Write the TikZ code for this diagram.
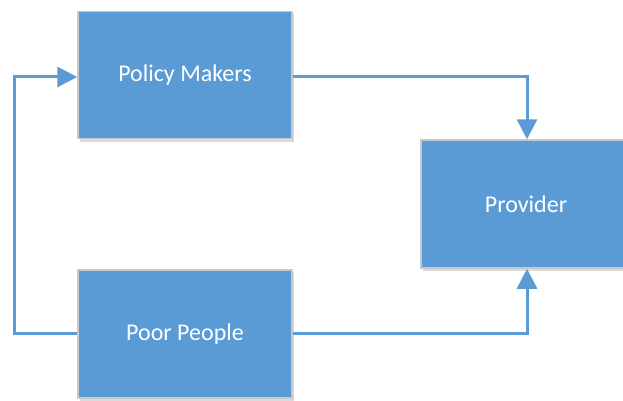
\documentclass[tikz,border=0pt]{standalone}
\usepackage{fontspec}
\setmainfont{Carlito}
\usetikzlibrary{arrows.meta,shadows}
\definecolor{boxblue}{HTML}{5B9BD5}
\definecolor{boxedge}{HTML}{C8C8C8}
\tikzset{
  x=1pt,y=-1pt,
  block/.style={draw=boxedge, line width=1.5pt, fill=boxblue, text=white, inner sep=0pt,
    font=\fontsize{24}{28}\selectfont,
    drop shadow={shadow xshift=2pt, shadow yshift=-3pt, opacity=0.25, fill=black!60}},
  conn/.style={draw=boxblue, line width=3pt, -{Triangle[length=20pt,width=20pt]}},
}
\begin{document}
\begin{tikzpicture}
\useasboundingbox (0,0) rectangle (623,401);
\node[block, minimum width=214pt, minimum height=127pt] (pm) at (185,75) {Policy Makers};
\node[block, minimum width=214pt, minimum height=128pt] (pp) at (185,334) {Poor People};
\node[block, minimum width=210pt, minimum height=128pt] (pr) at (526,204) {Provider};
\coordinate (lt) at (14,77);
\coordinate (lb) at (14,333);
\coordinate (rt) at (527,77);
\coordinate (rb) at (527,333);
\draw[conn] (pm.east |- rt) -- (rt) -- (rt |- pr.north);
\draw[conn] (pp.east |- rb) -- (rb) -- (rb |- pr.south);
\draw[conn] (pp.west |- lb) -- (lb) -- (lt) -- (lt -| pm.west);
\end{tikzpicture}
\end{document}
